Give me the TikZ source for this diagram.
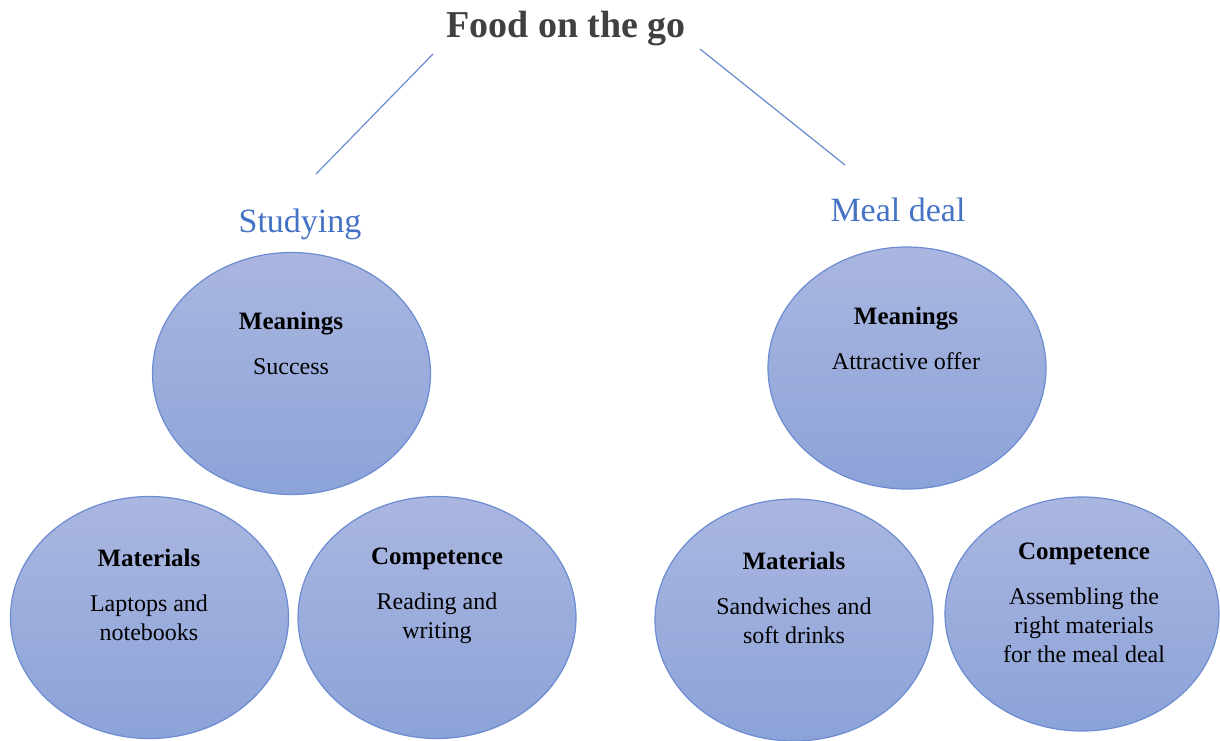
\documentclass[tikz,border=0pt]{standalone}
\usepackage{fontspec}
\setmainfont{Liberation Serif}
\usetikzlibrary{shapes.geometric}
\definecolor{blobtop}{RGB}{170,182,224}
\definecolor{blobbot}{RGB}{140,163,216}
\definecolor{blobline}{RGB}{108,140,210}
\definecolor{headblue}{RGB}{68,114,196}
\definecolor{titlegray}{RGB}{64,64,64}
\newcommand{\hd}[1]{{\bfseries\fontsize{12.5}{15}\selectfont #1}\\[8pt]}

\tikzset{
  blob/.style={ellipse, draw=blobline, line width=0.6pt, top color=blobtop, bottom color=blobbot,
    minimum width=139pt, minimum height=121pt, inner sep=0pt},
  body/.style={align=center, font=\fontsize{12}{14.5}\selectfont, inner sep=0pt},
  branch/.style={text=headblue, font=\fontsize{17}{20}\selectfont, inner sep=0pt},
  link/.style={draw=headblue!80, line width=0.6pt}
}

\begin{document}
\begin{tikzpicture}[x=0.5pt, y=-0.5pt]
    \useasboundingbox (0,0) rectangle (1220,740);

    \node[text=titlegray, font=\bfseries\fontsize{19}{22}\selectfont, inner sep=0pt] (T) at (566,29) {Food on the go};
    \node[branch] (S) at (300,224) {Studying};
    \node[branch] (D) at (898,210) {Meal deal};

    \coordinate (Sa) at (433,54);
    \coordinate (Sb) at (316,174);
    \coordinate (Da) at (700,49);
    \coordinate (Db) at (845,165);
    \draw[link] (Sa) -- (Sb);
    \draw[link] (Da) -- (Db);

    % studying
    \node[blob] (SM) at (291.5,373.5) {};
    \node[blob] (SA) at (149.5,617.5) {};
    \node[blob] (SC) at (437,617.5) {};
    \node[body] (SMt) at (291,343.5) {\hd{Meanings}Success};
    \node[body] (SAt) at (149,595) {\hd{Materials}Laptops and\\notebooks};
    \node[body] (SCt) at (437,596) {\hd{Competence}Reading and\\writing};

    % meal deal
    \node[blob] (DM) at (907,368) {};
    \node[blob] (DA) at (794,620) {};
    \node[blob, minimum width=137pt, minimum height=117pt] (DC) at (1082,614) {};
    \node[body] (DMt) at (906,338.5) {\hd{Meanings}Attractive offer};
    \node[body] (DAt) at (794,598) {\hd{Materials}Sandwiches and\\soft drinks};
    \node[body] (DCt) at (1084,602.5) {\hd{Competence}Assembling the\\right materials\\for the meal deal};
\end{tikzpicture}
\end{document}
